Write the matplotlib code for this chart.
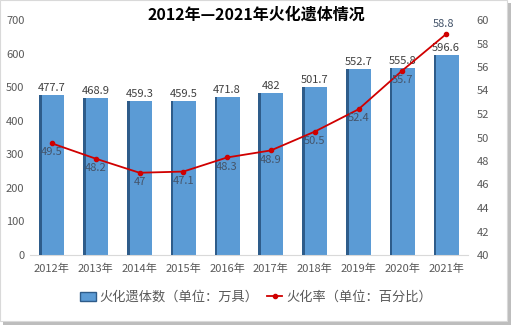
import matplotlib
matplotlib.use("Agg")
import matplotlib.pyplot as plt
from matplotlib.patches import Rectangle
from matplotlib.lines import Line2D
import numpy as np

plt.rcParams['font.family'] = ['Noto Sans CJK SC', 'DejaVu Sans']

years = ['2012年', '2013年', '2014年', '2015年', '2016年', '2017年', '2018年', '2019年', '2020年', '2021年']
cremated = [477.7, 468.9, 459.3, 459.5, 471.8, 482, 501.7, 552.7, 555.8, 596.6]
rate = [49.5, 48.2, 47, 47.1, 48.3, 48.9, 50.5, 52.4, 55.7, 58.8]
title = '2012年—2021年火化遗体情况'
bar_name = '火化遗体数（单位：万具）'
line_name = '火化率（单位：百分比）'

fig = plt.figure(figsize=(5.12, 3.25), dpi=100)
# frame with shadow
fig.patches.append(Rectangle((0.006, 0.0), 0.992, 0.99, transform=fig.transFigure,
                             facecolor='#bdbdbd', edgecolor='none', zorder=-2))
fig.patches.append(Rectangle((0.0, 0.012), 0.99, 0.988, transform=fig.transFigure,
                             facecolor='white', edgecolor='#d9d9d9', lw=0.8, zorder=-1))

ax = fig.add_axes([30/512, 1-255/325, 438/512, 235/325])
ax.patch.set_alpha(0)
x = np.arange(len(years))
bw = 0.57
ax.bar(x, cremated, width=bw, color='#5B9BD5', zorder=2)
ax.bar(x - bw/2 + 0.03, cremated, width=0.06, color='#2E5C8A', zorder=3)
for xi, v in zip(x, cremated):
    ax.text(xi, v + 6, f'{v:g}', ha='center', va='bottom', fontsize=8, color='#404040', zorder=5)
ax.set_ylim(0, 700)
ax.set_xlim(-0.5, len(years) - 0.5)
ax.set_yticks(range(0, 701, 100))
ax.set_xticks(x)
ax.set_xticklabels(years)
ax.tick_params(axis='both', length=0, labelsize=8, colors='#595959')
ax.tick_params(axis='x', pad=6)
ax.tick_params(axis='y', pad=4)
for s in ['top', 'right', 'left']:
    ax.spines[s].set_visible(False)
ax.spines['bottom'].set_color('#d9d9d9')

ax2 = ax.twinx()
ax2.plot(x, rate, color='#D00000', lw=1.3, marker='o', markersize=3, zorder=6)
for i, (xi, v) in enumerate(zip(x, rate)):
    if i == len(rate) - 1:
        ax2.text(xi - 0.05, v + 0.4, f'{v:g}', ha='center', va='bottom', fontsize=8, color='#44546A', zorder=7)
    else:
        ax2.text(xi, v - 0.35, f'{v:g}', ha='center', va='top', fontsize=8, color='#44546A', zorder=7)
ax2.set_ylim(40, 60)
ax2.set_yticks(range(40, 61, 2))
ax2.tick_params(axis='y', length=0, labelsize=8, colors='#595959', pad=6)
for s in ['top', 'right', 'left', 'bottom']:
    ax2.spines[s].set_visible(False)

fig.text(0.5, 0.955, title, ha='center', va='center', fontsize=11.5, fontweight='bold', color='black')

handles = [Rectangle((0, 0), 1, 1, facecolor='#5B9BD5', edgecolor='#2E5C8A'),
           Line2D([0], [0], color='#D00000', lw=1.3, marker='o', markersize=3)]
fig.legend(handles, [bar_name, line_name], loc='center', bbox_to_anchor=(0.5, 0.085),
           ncol=2, frameon=False, fontsize=9.5, labelcolor='#595959',
           handlelength=1.2, handletextpad=0.3, columnspacing=0.6)

fig.savefig('out.png', dpi=100)
